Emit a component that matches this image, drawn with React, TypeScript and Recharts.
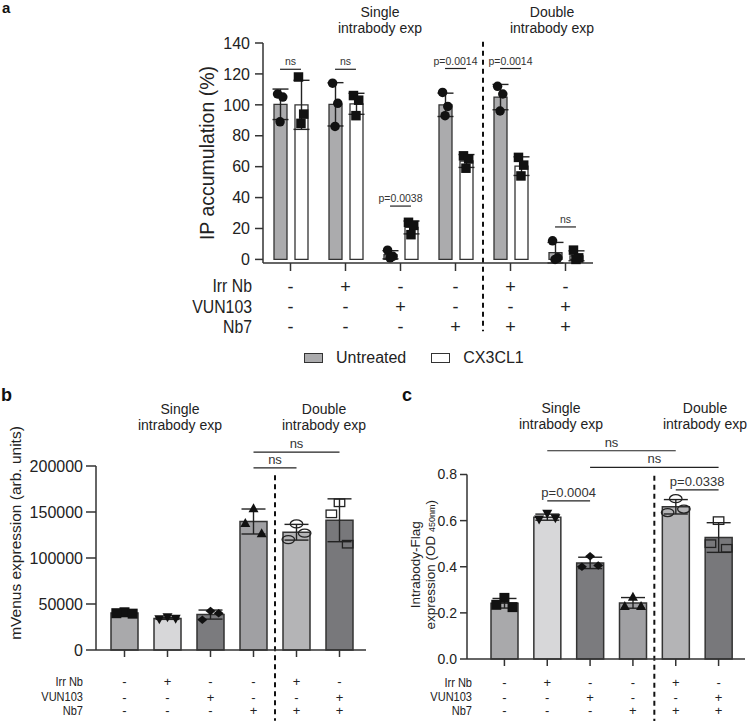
import React from 'react'
import {
  ComposedChart, Bar, Scatter, XAxis, YAxis, ErrorBar, ReferenceLine, Legend, Cell,
} from 'recharts'

const FONT = '"Liberation Sans", Arial, Helvetica, sans-serif'
const INK = '#222'

// row annotations shared by all three panels
const IRR_NB = ['-', '+', '-', '-', '+', '-']
const VUN103 = ['-', '-', '+', '-', '-', '+']
const NB7 = ['-', '-', '-', '+', '+', '+']
const ROW_LABELS = ['Irr Nb', 'VUN103', 'Nb7']

// panel a: IP accumulation (%), 3 replicates per bar
const A_GROUPS = ['g1', 'g2', 'g3', 'g4', 'g5', 'g6']
const A_SERIES = ['Untreated', 'CX3CL1']
const A_UNTREATED = [[107, 105, 89], [114, 101, 86], [6, 2, 1], [108, 99, 93], [112, 107, 96], [12, 1, 0]]
const A_CX3CL1 = [[118, 94, 88], [106, 103, 93], [24, 22, 16], [67, 65, 59], [66, 61, 54], [6, 1, 0]]
const A_TICKS = [0, 20, 40, 60, 80, 100, 120, 140]
const A_SIG_TEXT = ['ns', 'ns', 'p=0.0038', 'p=0.0014', 'p=0.0014', 'ns']
const A_SIG_Y = [123, 123, 34.5, 123.5, 123.5, 21]

// panel b: mVenus expression
const B_CATS = ['b1', 'b2', 'b3', 'b4', 'b5', 'b6']
const B_VALUES = [
  [41000, 40000, 39500], [35500, 33500, 34000], [42500, 33000, 40000],
  [154000, 138000, 127000], [137000, 120000, 127000], [160000, 148000, 115000],
]
const B_TICKS = [0, 50000, 100000, 150000, 200000]
const B_SIG = [
  { from: 3, to: 5, y: 215000, text: 'ns' },
  { from: 3, to: 4, y: 198000, text: 'ns' },
]

// panel c: Intrabody-Flag expression (OD 450nm)
const C_CATS = ['c1', 'c2', 'c3', 'c4', 'c5', 'c6']
const C_VALUES = [
  [0.265, 0.235, 0.225], [0.63, 0.605, 0.61], [0.445, 0.4, 0.405],
  [0.27, 0.23, 0.23], [0.695, 0.635, 0.65], [0.6, 0.5, 0.48],
]
const C_TICKS = [0, 0.2, 0.4, 0.6, 0.8]
const C_SIG = [
  { from: 1, to: 4, y: 0.903, text: 'ns' },
  { from: 2, to: 5, y: 0.831, text: 'ns' },
  { from: 1, to: 2, y: 0.686, text: 'p=0.0004' },
  { from: 4, to: 5, y: 0.733, text: 'p=0.0338' },
]

const BC_COLORS = ['#a9a9ab', '#d7d7d9', '#7b7b7e', '#a0a0a3', '#b4b4b6', '#78787b']
const BC_MARKERS = ['square', 'triangleDown', 'diamond', 'triangle', 'ellipse', 'hollowSquare']
const A_COLORS = ['#ababad', '#ffffff']

const mean = (v: number[]) => v.reduce((s, x) => s + x, 0) / v.length
const sd = (v: number[]) => {
  const m = mean(v)
  return Math.sqrt(v.reduce((s, x) => s + (x - m) * (x - m), 0) / (v.length - 1))
}

const rows = [IRR_NB, VUN103, NB7]

const aData = A_GROUPS.map((g, i) => ({
  name: g,
  untreated: mean(A_UNTREATED[i]), untreatedSd: sd(A_UNTREATED[i]),
  cx3cl1: mean(A_CX3CL1[i]), cx3cl1Sd: sd(A_CX3CL1[i]),
}))
const OFF_A = 0.19
const JIT_A = [-0.045, 0.05, 0]
const aPtsU = A_UNTREATED.flatMap((vals, i) => vals.map((v, j) => ({ x: i - OFF_A + JIT_A[j], y: v })))
const aPtsC = A_CX3CL1.flatMap((vals, i) => vals.map((v, j) => ({ x: i + OFF_A + JIT_A[j], y: v })))

const JIT_BC = [0, -0.19, 0.19]
const barData = (cats: string[], vals: number[][]) =>
  cats.map((c, i) => ({ name: c, mean: mean(vals[i]), sd: sd(vals[i]) }))
const pts = (vals: number[][]) =>
  vals.flatMap((vs, i) => vs.map((v, j) => ({ x: i + JIT_BC[j], y: v, k: i })))

const bData = barData(B_CATS, B_VALUES)
const bPts = pts(B_VALUES)
const cData = barData(C_CATS, C_VALUES)
const cPts = pts(C_VALUES)

function marker(kind: string, cx: number, cy: number, s: number) {
  const h = s / 2
  switch (kind) {
    case 'circle':
      return <circle cx={cx} cy={cy} r={h} fill="#111" />
    case 'square':
      return <rect x={cx - h} y={cy - h} width={s} height={s} fill="#111" />
    case 'triangle':
      return <path d={`M${cx},${cy - h}L${cx + h},${cy + h * 0.8}L${cx - h},${cy + h * 0.8}Z`} fill="#111" />
    case 'triangleDown':
      return <path d={`M${cx},${cy + h}L${cx + h},${cy - h * 0.8}L${cx - h},${cy - h * 0.8}Z`} fill="#111" />
    case 'diamond':
      return <path d={`M${cx},${cy - h * 0.85}L${cx + h},${cy}L${cx},${cy + h * 0.85}L${cx - h},${cy}Z`} fill="#111" />
    case 'ellipse':
      return <ellipse cx={cx} cy={cy} rx={h * 1.25} ry={h * 0.8} fill="none" stroke={INK} strokeWidth={1.3} />
    default:
      return <rect x={cx - h * 1.05} y={cy - h * 0.75} width={s * 1.05} height={s * 0.75} fill="none" stroke={INK} strokeWidth={1.3} />
  }
}

// sign rows under the x axis; row labels are drawn next to the first tick, slightly condensed
function makeTick(rowDy: number[], labelDx: number, labelSize: number, squeeze: number, signSize: number) {
  return (props: any) => {
    const { x, y, index } = props
    return (
      <g fontFamily={FONT} fill={INK}>
        {rows.map((r, k) => (
          <text key={k} x={x} y={y + rowDy[k]} textAnchor="middle" dominantBaseline="central" fontSize={signSize}>
            {r[index]}
          </text>
        ))}
        {index === 0 && ROW_LABELS.map((l, k) => (
          <text key={'l' + k} transform={`translate(${x + labelDx},${y + rowDy[k]}) scale(${squeeze},1)`}
            textAnchor="end" dominantBaseline="central" fontSize={labelSize}>
            {l}
          </text>
        ))}
      </g>
    )
  }
}

function yTitle(lines: React.ReactNode[], dx: number[], dy: number, fontSize: number) {
  return (props: any) => {
    const vb = props.viewBox || {}
    const ax = (vb.x ?? 0) + (vb.width ?? 0)
    const cy = (vb.y ?? 0) + (vb.height ?? 0) / 2 + dy
    return (
      <g>
        {lines.map((ln, k) => {
          const x = ax + dx[k]
          return (
            <text key={k} x={x} y={cy} transform={`rotate(-90 ${x} ${cy})`} textAnchor="middle"
              dominantBaseline="central" fontSize={fontSize} fontFamily={FONT} fill={INK}>
              {ln}
            </text>
          )
        })}
      </g>
    )
  }
}

const axisStyle = { stroke: '#333', strokeWidth: 1.5 }
const sigLabel = (text: string, fontSize: number) => ({
  value: text, position: 'top' as const, offset: 4, fontSize, fill: '#333', fontFamily: FONT,
})

function LegendA() {
  return (
    <div style={{ display: 'flex', alignItems: 'center', fontFamily: FONT, fontSize: 16, color: INK }}>
      {A_SERIES.map((s, i) => (
        <span key={s} style={{ display: 'flex', alignItems: 'center', marginRight: 25 }}>
          <span style={{ width: 17, height: 8, background: A_COLORS[i], border: '1.5px solid #333', marginRight: 13 }} />
          {s}
        </span>
      ))}
    </div>
  )
}

function PanelA() {
  return (
    <ComposedChart width={749} height={375} data={aData} barGap={8}
      margin={{ top: 43, right: 156, bottom: 0, left: 203 }}>
      <XAxis dataKey="name" height={112} interval={0} axisLine={axisStyle} tickLine={axisStyle}
        tickSize={8} tickMargin={2} tick={makeTick([13.5, 33.7, 54], -38.5, 18, 0.88, 18)} />
      <XAxis xAxisId="n" type="number" dataKey="x" domain={[-0.5, 5.5]} allowDataOverflow hide />
      <YAxis domain={[0, 140]} ticks={A_TICKS} width={60} axisLine={axisStyle} tickLine={axisStyle}
        tickSize={8} tickMargin={5} tick={{ fontSize: 16, fill: INK, fontFamily: FONT }}
        label={yTitle(['IP accumulation (%)'], [-56], 0, 19.5)} />
      <Bar dataKey="untreated" name={A_SERIES[0]} barSize={13} fill={A_COLORS[0]} stroke="#333" strokeWidth={1.3} isAnimationActive={false}>
        <ErrorBar dataKey="untreatedSd" width={8} stroke={INK} strokeWidth={1.4} />
      </Bar>
      <Bar dataKey="cx3cl1" name={A_SERIES[1]} barSize={13} fill={A_COLORS[1]} stroke="#333" strokeWidth={1.3} isAnimationActive={false}>
        <ErrorBar dataKey="cx3cl1Sd" width={8} stroke={INK} strokeWidth={1.4} />
      </Bar>
      <Scatter xAxisId="n" data={aPtsU} dataKey="y" legendType="none" isAnimationActive={false}
        shape={(p: any) => marker('circle', p.cx, p.cy, 9.5)} />
      <Scatter xAxisId="n" data={aPtsC} dataKey="y" legendType="none" isAnimationActive={false}
        shape={(p: any) => marker('square', p.cx, p.cy, 9.5)} />
      {A_SIG_TEXT.map((t, i) => (
        <ReferenceLine key={i} xAxisId="n" ifOverflow="visible" stroke={INK} strokeWidth={1.2}
          segment={[{ x: i - OFF_A, y: A_SIG_Y[i] }, { x: i + OFF_A, y: A_SIG_Y[i] }]}
          label={sigLabel(t, 10.5)} />
      ))}
      <ReferenceLine xAxisId="n" ifOverflow="visible" stroke="#111" strokeWidth={2} strokeDasharray="5 4"
        segment={[{ x: 3.5, y: 140.8 }, { x: 3.5, y: -46.5 }]} />
      <Legend layout="horizontal" verticalAlign="middle" align="center" content={LegendA}
        wrapperStyle={{ top: 349, left: 304, width: 260, height: 20 }} />
    </ComposedChart>
  )
}

function PanelBC(props: {
  data: any[]; points: any[]; width: number; height: number; margin: any; xHeight: number;
  padding: { left: number; right: number }; domain: number[]; ticks: number[]; yWidth: number;
  tickFont: number; yTickSize: number; yTickMargin: number; fmt?: (v: number) => string;
  title: any; rowDy: number[]; labelDx: number; sig: any[]; dash: number[]
}) {
  const p = props
  return (
    <ComposedChart width={p.width} height={p.height} data={p.data} margin={p.margin}>
      <XAxis dataKey="name" height={p.xHeight} interval={0} padding={p.padding} axisLine={axisStyle}
        tickLine={axisStyle} tickSize={7} tickMargin={2} tick={makeTick(p.rowDy, p.labelDx, 13, 0.85, 13)} />
      <XAxis xAxisId="n" type="number" dataKey="x" domain={[-0.5, 5.5]} padding={p.padding} allowDataOverflow hide />
      <YAxis domain={p.domain} ticks={p.ticks} width={p.yWidth} axisLine={axisStyle} tickLine={axisStyle}
        tickSize={p.yTickSize} tickMargin={p.yTickMargin} tickFormatter={p.fmt}
        tick={{ fontSize: p.tickFont, fill: INK, fontFamily: FONT }} label={p.title} />
      <Bar dataKey="mean" barSize={27} stroke="#333" strokeWidth={1.5} isAnimationActive={false}>
        {p.data.map((d, i) => <Cell key={d.name} fill={BC_COLORS[i]} />)}
        <ErrorBar dataKey="sd" width={12} stroke={INK} strokeWidth={1.4} />
      </Bar>
      <Scatter xAxisId="n" data={p.points} dataKey="y" legendType="none" isAnimationActive={false}
        shape={(s: any) => marker(BC_MARKERS[s.payload.k], s.cx, s.cy, 10)} />
      {p.sig.map((s, i) => (
        <ReferenceLine key={i} xAxisId="n" ifOverflow="visible" stroke={INK} strokeWidth={1.2}
          segment={[{ x: s.from, y: s.y }, { x: s.to, y: s.y }]} label={sigLabel(s.text, 13)} />
      ))}
      <ReferenceLine xAxisId="n" ifOverflow="visible" stroke="#111" strokeWidth={2} strokeDasharray="5 4"
        segment={[{ x: 3.5, y: p.dash[0] }, { x: 3.5, y: p.dash[1] }]} />
    </ComposedChart>
  )
}

function Header({ x, y, lines, size = 14 }: { x: number; y: number; lines: string[]; size?: number }) {
  return (
    <text x={x} y={y} textAnchor="middle" fontSize={size} fontFamily={FONT} fill={INK}>
      {lines.map((l, i) => <tspan key={i} x={x} dy={i === 0 ? 0 : 16}>{l}</tspan>)}
    </text>
  )
}

export default function App() {
  return (
    <div style={{ position: 'absolute', left: 0, top: 0, width: 749, height: 721, background: '#fff' }}>
      <div style={{ position: 'absolute', left: 0, top: 0 }}>
        <PanelA />
      </div>
      <div style={{ position: 'absolute', left: 0, top: 360 }}>
        <PanelBC data={bData} points={bPts} width={370} height={361}
          margin={{ top: 106, right: 4, bottom: 0, left: 36 }} xHeight={71}
          padding={{ left: 7, right: 5 }} domain={[0, 200000]} ticks={B_TICKS} yWidth={60}
          tickFont={16} yTickSize={10} yTickMargin={3}
          title={yTitle(['mVenus expression (arb. units)'], [-81], -25, 15.5)}
          rowDy={[22.7, 38, 51.7]} labelDx={-41.5} sig={B_SIG} dash={[190000, -77000]} />
      </div>
      <div style={{ position: 'absolute', left: 370, top: 360 }}>
        <PanelBC data={cData} points={cPts} width={379} height={361}
          margin={{ top: 114.5, right: 4, bottom: 0, left: 47 }} xHeight={62}
          padding={{ left: 16, right: 5 }} domain={[0, 0.8]} ticks={C_TICKS} yWidth={50}
          tickFont={14} yTickSize={7} yTickMargin={3} fmt={(v: number) => v.toFixed(1)}
          title={yTitle([
            'Intrabody-Flag',
            <>expression (OD <tspan fontSize={9} dy={2}>450nm</tspan><tspan dy={-2}>)</tspan></>,
          ], [-52, -37], -2, 13.5)}
          rowDy={[14.7, 29, 42.7]} labelDx={-32.4} sig={C_SIG} dash={[0.795, -0.27]} />
      </div>
      <svg width={749} height={721} style={{ position: 'absolute', left: 0, top: 0, pointerEvents: 'none' }}>
        <g fontFamily={FONT} fontWeight="bold" fill="#111">
          <text x={2} y={13} fontSize={15}>a</text>
          <text x={1} y={401} fontSize={18}>b</text>
          <text x={402} y={401} fontSize={18}>c</text>
        </g>
        <Header x={380} y={17} lines={['Single', 'intrabody exp']} />
        <Header x={552} y={17} lines={['Double', 'intrabody exp']} />
        <Header x={180} y={414} lines={['Single', 'intrabody exp']} />
        <Header x={324} y={414} lines={['Double', 'intrabody exp']} />
        <Header x={561} y={413} lines={['Single', 'intrabody exp']} />
        <Header x={705} y={413} lines={['Double', 'intrabody exp']} />
      </svg>
    </div>
  )
}
